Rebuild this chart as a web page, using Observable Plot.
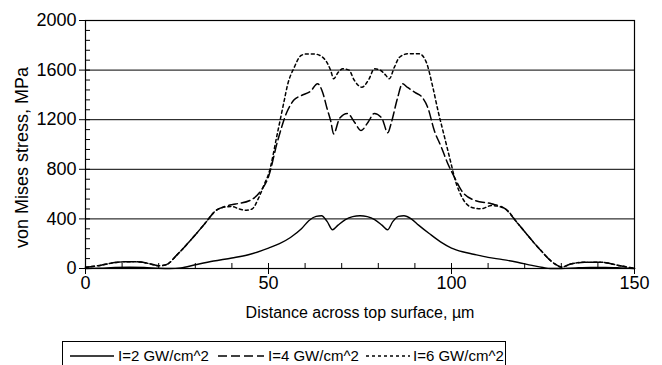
<!DOCTYPE html>
<html>
<head>
<meta charset="utf-8">
<script src="https://cdn.jsdelivr.net/npm/d3@7"></script>
<script src="https://cdn.jsdelivr.net/npm/@observablehq/plot@0.6"></script>
<style>
  html, body { margin: 0; padding: 0; background: #fff; }
  body { width: 662px; height: 365px; overflow: hidden; position: relative; font-family: "Liberation Sans", Arial, sans-serif; }
  #legend { position: absolute; left: 62px; top: 341px; width: 444px; height: 30px; border: 1px solid #000; box-sizing: border-box; font-size: 15px; white-space: nowrap; }
  #legend svg { position: absolute; top: 4px; display: block; }
  #legend span { position: absolute; top: 5px; line-height: 18px; }
</style>
</head>
<body>
<div id="chart"></div>
<div id="legend"></div>
<script>
// Series I=2 GW/cm^2 (solid)
const x2 = [0, 4, 8, 12, 16, 20, 23, 26, 30, 35, 40, 45, 50, 53, 56, 59, 61, 63, 64.5, 66, 67.5, 69, 71, 73, 75, 77, 79, 81, 82.5, 84, 85.5, 87, 89, 91, 94, 97, 100, 103, 106, 110, 114, 118, 122, 125, 127, 130, 134, 138, 142, 146, 150];
const v2 = [0, 3, 8, 10, 8, 2, 0, 5, 30, 60, 85, 115, 165, 200, 250, 320, 385, 420, 425, 380, 312, 350, 395, 418, 425, 418, 395, 350, 312, 380, 420, 425, 400, 350, 280, 215, 165, 135, 115, 90, 72, 50, 25, 8, 0, 0, 5, 8, 8, 5, 0];

// Series I=4 GW/cm^2 (dashed)
const x4 = [0, 4, 8, 12, 15, 18, 20, 22, 25, 28, 32, 36, 38, 41, 45, 48, 50, 52.5, 55, 57, 59, 61.5, 63.4, 64.8, 66, 67, 67.8, 69.4, 71.6, 73.5, 75.3, 77.2, 78.9, 81, 82.6, 83.5, 85.3, 86.6, 88, 90, 92, 93.5, 95.3, 97.2, 99, 100.8, 102.7, 106.3, 110.9, 114.5, 118.2, 123.6, 128.2, 130, 132.8, 136.4, 141, 145.6, 150];
const v4 = [10, 25, 48, 55, 52, 35, 22, 30, 110, 205, 340, 475, 500, 520, 550, 630, 740, 1030, 1260, 1360, 1395, 1430, 1490, 1420, 1290, 1190, 1085, 1210, 1250, 1180, 1113, 1180, 1250, 1210, 1095, 1170, 1380, 1490, 1460, 1420, 1380, 1300, 1113, 980, 845, 736, 630, 550, 522, 485, 360, 172, 38, 12, 38, 50, 50, 25, 0];

// Series I=6 GW/cm^2 (dotted)
const x6 = [0, 4, 8, 12, 15, 18, 20, 22, 25, 28, 32, 36, 38, 40, 42, 44, 45.5, 47.4, 49, 50, 52.5, 54.3, 55.2, 57, 58.9, 60.5, 62.5, 64.5, 66, 67, 67.8, 69, 70.3, 72, 73.4, 75.5, 77.5, 78.9, 80.5, 82, 83, 84.4, 85.8, 88, 91.2, 93.1, 94.9, 96.3, 98.1, 99.9, 100.8, 103.1, 105.4, 108.1, 110.9, 114.5, 118.2, 123.6, 128.2, 130, 132.8, 136.4, 141, 145.6, 150];
const v6 = [10, 25, 48, 55, 52, 35, 22, 30, 110, 205, 340, 475, 495, 500, 480, 470, 480, 575, 690, 760, 1100, 1355, 1480, 1620, 1718, 1730, 1730, 1710, 1660, 1597, 1530, 1580, 1610, 1600, 1520, 1462, 1530, 1610, 1600, 1560, 1530, 1624, 1704, 1731, 1731, 1664, 1462, 1274, 1059, 844, 736, 562, 494, 481, 508, 485, 360, 172, 38, 12, 38, 50, 50, 25, 0];

const seriesNames = ["I=2 GW/cm^2", "I=4 GW/cm^2", "I=6 GW/cm^2"];
const yMajor = [0, 400, 800, 1200, 1600, 2000];
const yGrid = [400, 800, 1200, 1600];
const yMinor = d3.range(0, 2001, 80);
const xMajor = [0, 50, 100, 150];
const xMinor = d3.range(0, 151, 10);
const xLabel = "Distance across top surface, \u00b5m";
const yLabel = "von Mises stress, MPa";

const dashes = [null, "9,4", "3,3"];
const toRows = (xs, vs) => xs.map((x, i) => ({x, v: vs[i]}));
const d2 = toRows(x2, v2), d4 = toRows(x4, v4), d6 = toRows(x6, v6);

const plot = Plot.plot({
  width: 662,
  height: 336,
  marginLeft: 85,
  marginRight: 28,
  marginTop: 20,
  marginBottom: 68,
  style: { fontFamily: "'Liberation Sans', Arial, sans-serif", fontSize: "16px", color: "#000", background: "#fff" },
  x: { domain: [0, 150] },
  y: { domain: [0, 2000] },
  marks: [
    Plot.ruleY(yGrid, { stroke: "#000", strokeWidth: 1 }),
    Plot.axisY({ ticks: yMinor, tickSize: -5, tickFormat: () => "", label: null, stroke: "#000", strokeOpacity: 1 }),
    Plot.axisX({ ticks: xMinor, tickSize: -5, tickFormat: () => "", label: null, stroke: "#000", strokeOpacity: 1 }),
    Plot.axisY({ ticks: yMajor, tickSize: 6, tickPadding: 3, tickFormat: d3.format("d"), label: null, stroke: "#000", strokeOpacity: 1, fill: "#000", fontSize: 18 }),
    Plot.axisX({ ticks: xMajor, tickSize: 6, tickPadding: 2, label: null, stroke: "#000", strokeOpacity: 1, fill: "#000", fontSize: 18 }),
    Plot.text([xLabel], { frameAnchor: "bottom", dy: 49, fontSize: 16, fill: "#000" }),
    Plot.text([yLabel], { frameAnchor: "left", textAnchor: "middle", rotate: -90, dx: -63, dy: 13, fontSize: 18, fill: "#000" }),
    Plot.line(d2, { x: "x", y: "v", stroke: "#000", strokeWidth: 1.4, curve: "monotone-x" }),
    Plot.line(d4, { x: "x", y: "v", stroke: "#000", strokeWidth: 1.5, strokeDasharray: dashes[1], curve: "monotone-x" }),
    Plot.line(d6, { x: "x", y: "v", stroke: "#000", strokeWidth: 1.5, strokeDasharray: dashes[2], curve: "monotone-x" }),
    Plot.frame({ stroke: "#000", strokeWidth: 1.2 })
  ]
});
document.getElementById("chart").appendChild(plot);

// Legend (HTML below the SVG); positions relative to the legend box
const legend = document.getElementById("legend");
const sampleX = [7, 155, 303];
const sampleW = [44, 46, 44];
const textX = [55, 205, 350];
const ns = "http://www.w3.org/2000/svg";
seriesNames.forEach((name, i) => {
  const s = document.createElementNS(ns, "svg");
  s.setAttribute("width", sampleW[i]);
  s.setAttribute("height", 20);
  s.style.left = sampleX[i] + "px";
  const l = document.createElementNS(ns, "line");
  l.setAttribute("x1", 0); l.setAttribute("x2", sampleW[i]);
  l.setAttribute("y1", 10); l.setAttribute("y2", 10);
  l.setAttribute("stroke", "#000");
  l.setAttribute("stroke-width", 1.5);
  if (dashes[i]) l.setAttribute("stroke-dasharray", dashes[i]);
  s.appendChild(l);
  const t = document.createElement("span");
  t.textContent = name;
  t.style.left = textX[i] + "px";
  legend.appendChild(s);
  legend.appendChild(t);
});
</script>
</body>
</html>
